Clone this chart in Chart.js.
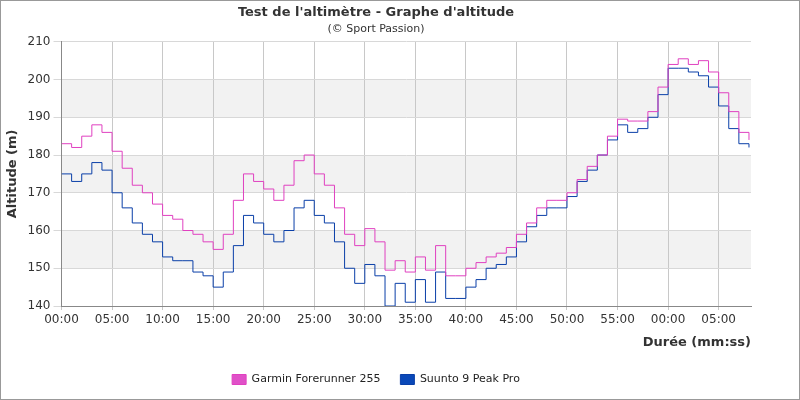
<!DOCTYPE html>
<html>
<head>
<meta charset="utf-8">
<script src="https://cdn.jsdelivr.net/npm/chart.js@4"></script>
<style>
  body { margin: 0; background: #fff; }
  #wrap { width: 798px; height: 398px; border: 1px solid #999; position: relative; }
</style>
</head>
<body>
<div id="wrap"><canvas id="chart" width="798" height="398"></canvas></div>
<script>
// time in minutes
const minutes = [];
for (let m = 0; m <= 68; m++) minutes.push(m);

const garmin = [183, 182, 185, 188, 186, 181, 176.5, 172, 170, 167, 164, 163, 160, 159, 157, 155,
  159, 168, 175, 173, 171, 168, 172, 178.5, 180, 175, 172, 166, 159, 156, 160.5, 157, 149.5, 152,
  149, 153, 149.5, 156, 148, 148, 150, 151.5, 153, 154, 155.5, 159, 162, 166, 168, 168, 170, 173.5,
  177, 180, 185, 189.5, 189, 189, 191.5, 198, 204, 205.5, 204, 205, 202, 196.5, 191.5, 186, 184];

const suunto = [175, 173, 175, 178, 176, 170, 166, 162, 159, 157, 153, 152, 152, 149, 148, 145,
  149, 156, 164, 162, 159, 157, 160, 166, 168, 164, 162, 157, 150, 146, 151, 148, 140, 146, 141,
  147, 141, 149, 142, 142, 145, 147, 150, 151, 153, 157, 161, 164, 166, 166, 169, 173, 176, 180,
  184, 188, 186, 187, 190, 196, 203, 203, 202, 201, 198, 193, 187, 183, 182];

const yTicks = [140, 150, 160, 170, 180, 190, 200, 210];

function toPts(vals) {
  return vals.map((v, i) => ({ x: minutes[i], y: v }));
}

// gray bands behind the plot
const bands = {
  id: 'bands',
  beforeDraw(chart) {
    let ctx = chart.ctx, y = chart.scales.y, a = chart.chartArea;
    ctx.save();
    ctx.fillStyle = '#f2f2f2';
    [[150, 160], [170, 180], [190, 200]].forEach(b => {
      let top = y.getPixelForValue(b[1]), bot = y.getPixelForValue(b[0]);
      ctx.fillRect(a.left, top, a.right - a.left, bot - top);
    });
    ctx.restore();
  }
};

new Chart(document.getElementById('chart'), {
  type: 'line',
  data: {
    datasets: [
      { label: 'Garmin Forerunner 255', data: toPts(garmin), borderColor: '#e040c0',
        backgroundColor: '#e050c8', borderWidth: 1, pointRadius: 0, stepped: true },
      { label: 'Suunto 9 Peak Pro', data: toPts(suunto), borderColor: '#0a3fa8',
        backgroundColor: '#0a48b8', borderWidth: 1, pointRadius: 0, stepped: true }
    ]
  },
  options: {
    responsive: false,
    animation: false,
    layout: { padding: { left: 0, right: 48, top: 0, bottom: 4 } },
    plugins: {
      title: { display: true, text: "Test de l'altimètre - Graphe d'altitude", color: '#333',
        font: { family: 'DejaVu Sans', size: 13, weight: 'bold' }, padding: { top: 4, bottom: 2 } },
      subtitle: { display: true, text: '(© Sport Passion)', color: '#333',
        font: { family: 'DejaVu Sans', size: 11 }, padding: { bottom: 6 } },
      legend: { position: 'bottom', labels: { boxWidth: 14, boxHeight: 10, color: '#222',
        font: { family: 'DejaVu Sans', size: 11 }, padding: 20 } },
      tooltip: { enabled: false }
    },
    scales: {
      x: {
        type: 'linear', min: 0, max: 68.2,
        ticks: { stepSize: 5, autoSkip: false, color: '#333', font: { family: 'DejaVu Sans', size: 12 },
          callback: v => String(v % 60).padStart(2, '0') + ':00', maxRotation: 0,
          includeBounds: false },
        grid: { color: '#c8c8c8', drawTicks: true, tickLength: 4 },
        border: { color: '#888' },
        title: { display: true, text: 'Durée (mm:ss)', align: 'end', color: '#333',
          font: { family: 'DejaVu Sans', size: 13, weight: 'bold' } }
      },
      y: {
        min: 140, max: 210,
        afterBuildTicks: s => { s.ticks = yTicks.map(v => ({ value: v })); },
        ticks: { color: '#333', font: { family: 'DejaVu Sans', size: 12 } },
        grid: { color: '#d8d8d8' },
        border: { color: '#888' },
        title: { display: true, text: 'Altitude (m)', color: '#333',
          font: { family: 'DejaVu Sans', size: 13, weight: 'bold' } }
      }
    }
  },
  plugins: [bands]
});
</script>
</body>
</html>
